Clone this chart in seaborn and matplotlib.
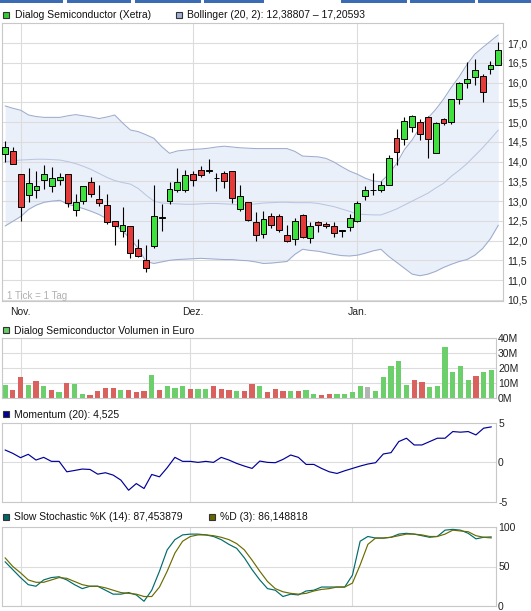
import numpy as np
import pandas as pd
import seaborn as sns
import matplotlib.pyplot as plt
from matplotlib.patches import Rectangle

# --- data (one entry per trading day) ---
open_ = [14.18, 14.26, 13.68, 13.16, 13.28, 13.53, 13.39, 13.53, 13.68, 12.78,
         13.00, 13.49, 13.05, 12.89, 12.50, 12.25, 12.38, 11.80, 11.52, 11.86,
         12.56, 13.01, 13.29, 13.29, 13.68, 13.79, 13.75, 13.58, 13.71, 13.75,
         12.81, 12.97, 12.48, 12.17, 12.63, 12.61, 12.15, 12.05, 12.65, 12.06,
         12.47, 12.42, 12.37, 12.25, 12.34, 12.50, 13.13, 13.28, 13.29, 13.42,
         14.59, 14.56, 14.88, 15.01, 15.12, 14.23, 15.07, 15.01, 15.58, 15.98,
         16.15, 16.16, 16.34, 16.44]
high = [14.52, 14.37, 13.68, 13.84, 13.76, 13.91, 13.87, 13.72, 13.68, 13.18,
        13.38, 13.62, 13.40, 13.19, 12.50, 12.84, 12.38, 12.05, 11.90, 13.41,
        12.92, 13.48, 13.83, 13.79, 13.76, 13.90, 14.07, 13.71, 13.75, 13.75,
        13.41, 12.97, 12.72, 12.75, 12.69, 12.68, 12.40, 12.58, 12.67, 12.48,
        12.50, 12.47, 12.46, 12.25, 12.67, 12.99, 13.39, 13.70, 13.50, 14.17,
        14.82, 15.13, 15.19, 15.08, 15.16, 15.00, 15.11, 15.58, 16.02, 16.51,
        16.61, 16.22, 16.54, 17.03]
low = [13.98, 13.93, 12.50, 12.97, 13.09, 13.31, 13.22, 13.41, 12.84, 12.63,
       12.92, 13.10, 12.88, 12.42, 11.90, 12.08, 11.56, 11.58, 11.21, 11.82,
       12.24, 12.92, 13.24, 13.24, 13.37, 13.60, 13.71, 13.26, 13.33, 12.95,
       12.74, 12.49, 12.00, 12.06, 12.32, 12.23, 11.96, 11.89, 12.06, 11.94,
       12.21, 12.32, 12.08, 12.08, 12.25, 12.47, 13.03, 13.16, 13.24, 13.42,
       13.91, 14.43, 14.76, 14.54, 14.08, 14.23, 14.92, 14.95, 15.47, 15.87,
       15.95, 15.50, 16.23, 16.44]
close = [14.38, 13.93, 12.84, 13.45, 13.39, 13.68, 13.58, 13.62, 12.94, 12.97,
         13.38, 13.18, 12.94, 12.47, 12.36, 12.40, 11.69, 11.62, 11.31, 12.63,
         12.60, 13.31, 13.48, 13.65, 13.54, 13.65, 13.79, 13.58, 13.51, 13.08,
         13.13, 12.53, 12.15, 12.55, 12.40, 12.27, 11.99, 12.50, 12.08, 12.36,
         12.40, 12.37, 12.19, 12.25, 12.58, 12.94, 13.28, 13.28, 13.42, 14.10,
         14.25, 15.03, 15.15, 14.71, 14.56, 14.97, 14.98, 15.58, 15.98, 16.09,
         16.32, 15.77, 16.44, 16.82]

bb_upper = [15.41, 15.35, 15.30, 15.18, 15.14, 15.12, 15.12, 15.12, 15.16, 15.19,
            15.16, 15.13, 15.09, 15.13, 15.18, 14.98, 14.80, 14.76, 14.68, 14.59,
            14.38, 14.21, 14.27, 14.29, 14.31, 14.32, 14.34, 14.37, 14.39, 14.37,
            14.35, 14.34, 14.33, 14.33, 14.33, 14.33, 14.33, 14.26, 14.14, 14.13,
            14.12, 14.08, 13.99, 13.87, 13.76, 13.68, 13.58, 13.51, 13.49, 13.68,
            13.95, 14.30, 14.55, 14.87, 15.10, 15.32, 15.58, 15.88, 16.15, 16.46,
            16.72, 16.89, 17.05, 17.21]
bb_mid = [14.00, 14.02, 14.04, 14.05, 14.06, 14.06, 14.05, 14.04, 14.00, 13.95,
          13.88, 13.80, 13.70, 13.60, 13.52, 13.47, 13.43, 13.32, 13.15, 13.00,
          12.95, 12.94, 12.93, 12.92, 12.92, 12.93, 12.94, 12.94, 12.93, 12.92,
          12.90, 12.91, 12.93, 12.95, 12.96, 12.97, 12.97, 12.96, 12.96, 12.96,
          12.94, 12.90, 12.86, 12.80, 12.74, 12.67, 12.66, 12.65, 12.65, 12.72,
          12.80, 12.90, 13.00, 13.10, 13.20, 13.33, 13.45, 13.63, 13.78, 13.95,
          14.15, 14.35, 14.57, 14.80]
bb_lower = [12.37, 12.49, 12.61, 12.79, 12.90, 12.97, 13.00, 13.02, 12.92, 12.87,
            12.81, 12.74, 12.66, 12.55, 12.41, 12.24, 12.05, 11.80, 11.47, 11.42,
            11.46, 11.50, 11.52, 11.53, 11.54, 11.55, 11.54, 11.53, 11.52, 11.52,
            11.50, 11.49, 11.46, 11.42, 11.43, 11.45, 11.47, 11.65, 11.78, 11.75,
            11.73, 11.69, 11.65, 11.62, 11.61, 11.63, 11.68, 11.74, 11.78, 11.60,
            11.45, 11.30, 11.15, 11.11, 11.15, 11.22, 11.32, 11.40, 11.47, 11.52,
            11.63, 11.80, 12.05, 12.39]

volume_m = [8.9, 5.6, 13.8, 8.4, 11.1, 8.2, 5.6, 3.8, 10.2, 9.6,
            2.9, 2.2, 4.9, 6.9, 6.9, 5.6, 5.6, 3.8, 4.4, 15.1,
            5.6, 8.2, 6.9, 8.2, 6.2, 6.2, 6.2, 8.2, 6.2, 5.6,
            4.9, 4.9, 9.6, 8.2, 3.8, 6.2, 4.9, 4.9, 4.9, 5.6,
            2.9, 2.2, 2.9, 2.9, 2.9, 3.8, 7.8, 7.1, 4.9, 14.2,
            21.6, 24.9, 8.9, 12.2, 10.4, 7.1, 7.8, 33.8, 17.6, 21.6,
            11.8, 14.4, 17.1, 18.9]

momentum = [1.58, 1.15, 0.6, 1.03, 0.3, 0.64, 0.13, 0.13, -1.2, -1.03,
            -0.85, -0.9, -1.5, -1.32, -1.62, -2.26, -3.55, -2.7, -3.33, -1.54,
            -1.84, -0.68, 0.64, 0.13, 0.13, 0.0, 0.13, 0.0, 0.64, 0.3,
            -0.13, -0.47, -0.77, 0.17, 0.0, -0.04, 0.38, 0.94, 0.64, -0.26,
            -0.26, -0.77, -1.2, -1.41, -1.07, -0.77, -0.47, -0.21, -0.04, 1.07,
            1.24, 2.65, 3.08, 2.22, 2.22, 2.65, 3.08, 3.08, 3.93, 3.85,
            3.93, 3.5, 4.36, 4.525]

stoch_k = [56, 46, 36, 27, 25, 33, 36, 37, 33, 27,
           22, 25, 25, 20, 15, 15, 17, 14, 6, 20,
           44, 71, 84, 90, 91, 91, 90, 88, 84, 78,
           73, 61, 46, 33, 22, 20, 12, 15, 14, 19,
           20, 24, 24, 24, 24, 39, 82, 88, 86, 86,
           87, 91, 92, 91, 89, 87, 88, 96, 97, 96,
           92, 85, 87, 87.45]
stoch_d = [61, 50, 42, 33, 30, 30, 33, 36, 35, 31,
           27, 25, 25, 23, 20, 17, 16, 15, 12, 12,
           24, 44, 67, 82, 88, 90, 90, 89, 87, 84,
           79, 71, 58, 44, 31, 22, 18, 16, 15, 16,
           19, 21, 22, 24, 24, 29, 52, 78, 86, 86,
           87, 89, 91, 91, 90, 88, 88, 91, 96, 95,
           94, 89, 87, 86.15]

month_pos = [2, 24, 45]
month_labels = ['Nov.', 'Dez.', 'Jan.']

# --- setup ---
sns.set_style('white')
plt.rcParams['font.family'] = ['Liberation Sans', 'DejaVu Sans']

W, H = 531, 611
fig = plt.figure(figsize=(W / 100, H / 100), dpi=100)


def rect(l, t, r, b):
    return [l / W, 1 - b / H, (r - l) / W, (b - t) / H]


def legend_box(x, y, color):
    fig.add_artist(Rectangle((x / W, 1 - (y + 6) / H), 6 / W, 6 / H, transform=fig.transFigure,
                             facecolor=color, edgecolor='#333333', lw=0.8))


def legend_text(x, y, s, color='#111111', size=7.5):
    fig.text(x / W, 1 - y / H, s, fontsize=size, va='center', ha='left', color=color)


def style_axes(ax, yticks, ylabels, pad, labels_x=False):
    ax.set_xlim(-0.4, 63.6)
    ax.set_xticks(month_pos)
    ax.set_xticklabels(month_labels if labels_x else [''] * 3)
    ax.set_yticks(yticks)
    ax.set_yticklabels(ylabels)
    ax.yaxis.tick_right()
    ax.tick_params(axis='y', length=0, pad=pad, labelsize=7.5, labelcolor='#222222')
    ax.tick_params(axis='x', length=0, pad=4.5, labelsize=7.5, labelcolor='#222222')
    ax.grid(True, color='#dcdcdc', lw=0.8)
    ax.set_axisbelow(True)
    ax.set_xlabel('')
    ax.set_ylabel('')
    for s in ax.spines.values():
        s.set_color('#c8c8c8')
        s.set_linewidth(0.8)


idx = np.arange(len(close))
o = np.array(open_)
c = np.array(close)

# tab strip at the very top
for a, b in [(0, 63), (67, 131), (135, 201), (204, 264), (341, 407), (410, 475), (478, 531)]:
    fig.add_artist(Rectangle((a / W, 1 - 3 / H), (b - a) / W, 3 / H, transform=fig.transFigure,
                             facecolor='#3b6cb3', lw=0))

# --- price panel ---
ax1 = fig.add_axes(rect(2, 23, 503, 301))
ax1.fill_between(idx, bb_lower, bb_upper, color='#eaf0fa', lw=0, zorder=0.3)
sns.lineplot(x=idx, y=bb_upper, ax=ax1, color='#9eaccd', lw=0.75, zorder=1)
sns.lineplot(x=idx, y=bb_mid, ax=ax1, color='#bac6e0', lw=0.75, zorder=1)
sns.lineplot(x=idx, y=bb_lower, ax=ax1, color='#9eaccd', lw=0.75, zorder=1)
ax1.vlines(idx, low, high, color='black', lw=0.8, zorder=2)
body_cols = ['#3ee03e' if cc > oo else '#e53a3a' if cc < oo else 'black' for oo, cc in zip(o, c)]
ax1.bar(idx, np.maximum(np.abs(c - o), 0.012), bottom=np.minimum(o, c), width=0.75,
        color=body_cols, edgecolor='black', lw=0.7, zorder=3)
ax1.set_ylim(10.47, 17.51)
pt = np.arange(10.5, 17.01, 0.5)
style_axes(ax1, pt, [f'{v:.1f}'.replace('.', ',') for v in pt], 2.7, labels_x=True)
legend_box(3, 12, '#33cc33')
legend_text(15, 15.5, 'Dialog Semiconductor (Xetra)')
legend_box(176, 12, '#9fb0d8')
legend_text(187, 15.5, 'Bollinger (20, 2): 12,38807 – 17,20593')
legend_text(7, 296, '1 Tick = 1 Tag', color='#b0b0b0', size=7)

# --- volume panel (bar colour follows close vs. previous close) ---
prev = np.r_[c[0] - 1, c[:-1]]
vol_cols = np.where(c > prev, '#6ccf6c', np.where(c < prev, '#d9625f', '#b4b4b4'))
ax2 = fig.add_axes(rect(2, 338, 496, 398))
ax2.bar(idx, np.array(volume_m) * 1e6, width=0.68, color=vol_cols, lw=0, zorder=2)
ax2.set_ylim(0, 40e6)
style_axes(ax2, [0, 10e6, 20e6, 30e6, 40e6], ['0M', '10M', '20M', '30M', '40M'], 1.5)
legend_box(3, 327, '#66cc66')
legend_text(14, 330.5, 'Dialog Semiconductor Volumen in Euro')

# --- momentum panel ---
ax3 = fig.add_axes(rect(2, 423, 496, 502))
sns.lineplot(x=idx, y=momentum, ax=ax3, color='#000099', lw=0.85)
ax3.set_ylim(-5.05, 5.02)
style_axes(ax3, [-5, 0, 5], ['-5', '0', '5'], 1.5)
legend_box(3, 411, '#000099')
legend_text(14, 414.5, 'Momentum (20): 4,525')

# --- slow stochastic panel ---
ax4 = fig.add_axes(rect(2, 527, 496, 606))
sns.lineplot(x=idx, y=stoch_k, ax=ax4, color='#006b6b', lw=0.85)
sns.lineplot(x=idx, y=stoch_d, ax=ax4, color='#6b6b00', lw=0.85)
ax4.set_ylim(0, 100)
style_axes(ax4, [0, 50, 100], ['0', '50', '100'], 1.5)
legend_box(3, 514, '#006666')
legend_text(14, 517.5, 'Slow Stochastic %K (14): 87,453879')
legend_box(209, 514, '#666600')
legend_text(220, 517.5, '%D (3): 86,148818')

fig.savefig('out.png', dpi=100)
